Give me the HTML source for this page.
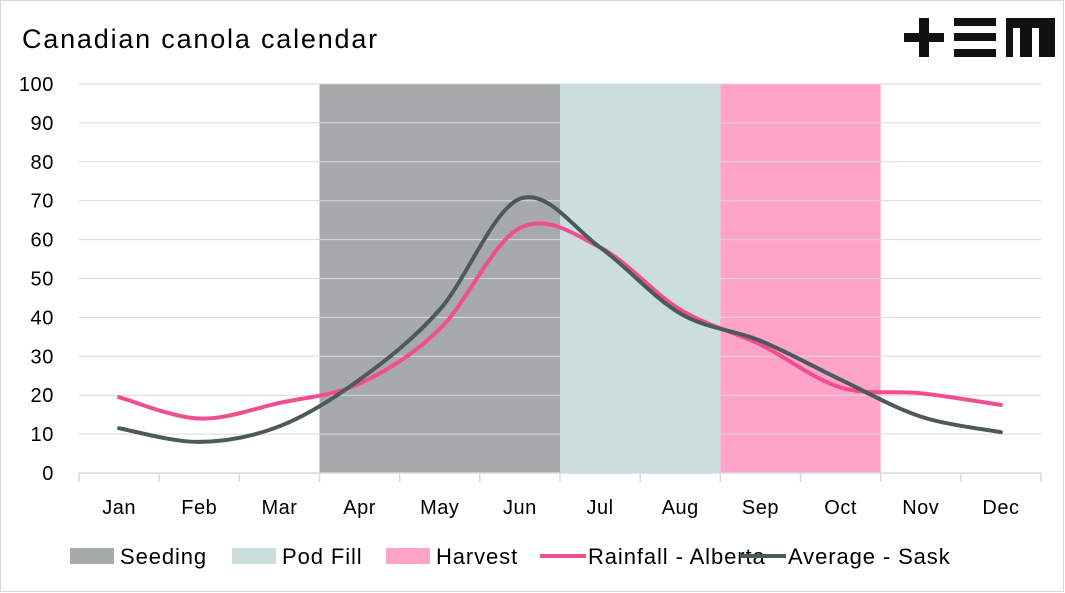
<!DOCTYPE html>
<html><head><meta charset="utf-8"><style>
body{margin:0;background:#fff;}
svg{display:block;font-family:"Liberation Sans",sans-serif;}
</style></head><body>
<svg id="c" width="1065" height="593" viewBox="0 0 1065 593">
<rect x="0.5" y="0.5" width="1063" height="591" fill="#fff" stroke="#d9d9d9"/>
<text x="22" y="48" font-size="27" letter-spacing="1.8" fill="#000">Canadian canola calendar</text>
<g fill="#111">
<rect x="904" y="33" width="40" height="9"/><rect x="919" y="18" width="10" height="39"/>
<rect x="954" y="18" width="42" height="8"/><rect x="954" y="33" width="42" height="8"/><rect x="954" y="49" width="42" height="8"/>
<path d="M1006 18H1055V57H1039V28H1032V57H1020V28H1013V57H1006Z"/>
</g>
<g id="bands"></g><g id="grid"></g><g id="lines"></g><g id="axes"></g><g id="legend"></g>
</svg>
<script>
const months=["Jan","Feb","Mar","Apr","May","Jun","Jul","Aug","Sep","Oct","Nov","Dec"];
const rainfallAlberta=[19.5,14,18,23,37,63,58,42,33,22,20.5,17.5];
const averageSask=[11.5,8,12,24,42,70.5,58,41,34,24,14.5,10.5];
const yTicks=[0,10,20,30,40,50,60,70,80,90,100];
const phaseNames=["Seeding","Pod Fill","Harvest"];
const phaseStart=[3,6,8];
const phaseEnd=[6,8,10];
const phaseColors=["#a6aaaa","#cbdedd","#ffa3c8"];
const NS="http://www.w3.org/2000/svg";
const x0=79,x1=1041,y0=473,y1=84;
const bw=(x1-x0)/12;
const xc=i=>x0+bw*(i+0.5);
const xe=i=>x0+bw*i;
const y=v=>y0-(v/100)*(y0-y1);
function mk(t,a,p){const e=document.createElementNS(NS,t);for(const k in a)e.setAttribute(k,a[k]);p.appendChild(e);return e;}
const bands=document.getElementById('bands');
phaseNames.forEach((n,i)=>{const r=mk('rect',{x:xe(phaseStart[i]),y:y(100),width:xe(phaseEnd[i])-xe(phaseStart[i]),height:y(0)-y(100),fill:phaseColors[i]},bands);

});
const grid=document.getElementById('grid');
yTicks.forEach(t=>{if(t>0){const l=mk('line',{x1:x0,x2:x1,y1:y(t),y2:y(t),stroke:'#d9d9d9','stroke-width':1},grid);

}
const tx=mk('text',{x:54,y:y(t)+7,'font-size':20,'letter-spacing':0.6,'text-anchor':'end',fill:'#000'},grid);tx.textContent=t;

});
const axes=document.getElementById('axes');
const ax=mk('line',{x1:x0,x2:x1,y1:y0,y2:y0,stroke:'#d9d9d9','stroke-width':1.5},axes);


for(let i=0;i<=12;i++){const t=mk('line',{x1:xe(i),x2:xe(i),y1:y0,y2:y0+9,stroke:'#d9d9d9','stroke-width':1.5},axes);

}
months.forEach((m,i)=>{const t=mk('text',{x:xc(i),y:514,'font-size':20,'letter-spacing':0.5,'text-anchor':'middle',fill:'#000'},axes);t.textContent=m;

});
function path(vals){const p=vals.map((v,i)=>[xc(i),y(v)]);let d='M'+p[0][0]+' '+p[0][1];
for(let i=0;i<p.length-1;i++){const a=p[Math.max(0,i-1)],b=p[i],c=p[i+1],e=p[Math.min(p.length-1,i+2)];
const c1=[b[0]+(c[0]-a[0])/6,b[1]+(c[1]-a[1])/6],c2=[c[0]-(e[0]-b[0])/6,c[1]-(e[1]-b[1])/6];
d+=` C${c1[0]} ${c1[1]} ${c2[0]} ${c2[1]} ${c[0]} ${c[1]}`;}return d;}
const lines=document.getElementById('lines');
const la=mk('path',{d:path(rainfallAlberta),fill:'none',stroke:'#f24d90','stroke-width':4,'stroke-linecap':'round'},lines);


const ls=mk('path',{d:path(averageSask),fill:'none',stroke:'#4d5a5a','stroke-width':4,'stroke-linecap':'round'},lines);


const lg=document.getElementById('legend');
const items=[["Seeding","#a6aaaa","box",70,120],["Pod Fill","#cbdedd","box",232,282],["Harvest","#ffa3c8","box",386,436],["Rainfall - Alberta","#f24d90","line",540,588],["Average - Sask","#4d5a5a","line",740,788]];
items.forEach(it=>{let s;if(it[2]=="box")s=mk('rect',{x:it[3],y:548,width:44,height:16,fill:it[1]},lg);
else s=mk('line',{x1:it[3],x2:it[3]+46,y1:556,y2:556,stroke:it[1],'stroke-width':4},lg);


const t=mk('text',{x:it[4],y:564,'font-size':22,'letter-spacing':0.9,fill:'#000'},lg);t.textContent=it[0];

});
</script>
</body></html>
